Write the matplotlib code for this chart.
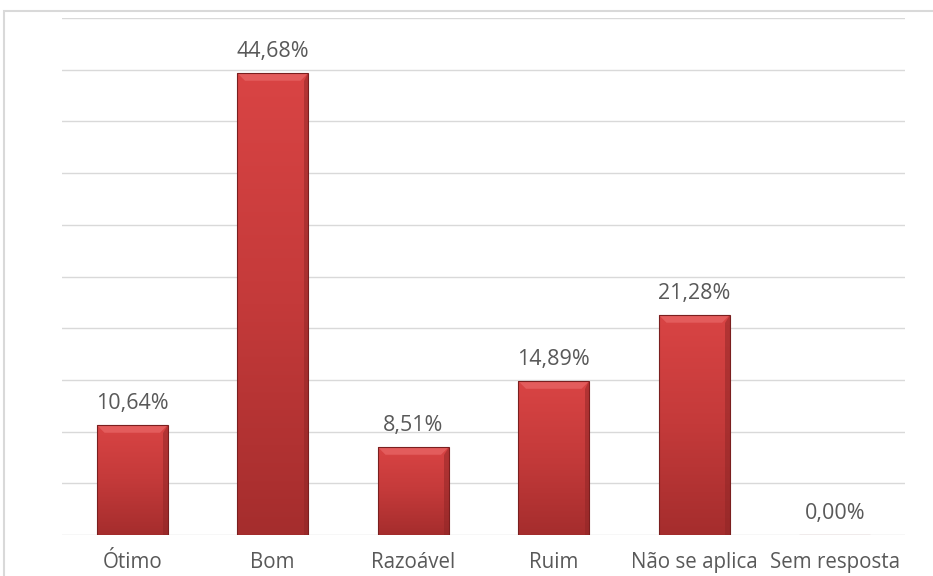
import numpy as np
import matplotlib.pyplot as plt
from matplotlib.patches import Rectangle, Polygon
from matplotlib.colors import LinearSegmentedColormap

categories = ["Ótimo", "Bom", "Razoável", "Ruim", "Não se aplica", "Sem resposta"]
values = [10.64, 44.68, 8.51, 14.89, 21.28, 0.00]

plt.rcParams["font.family"] = ["Open Sans", "DejaVu Sans"]
TEXT = "#595959"
GRID = "#d9d9d9"

fig = plt.figure(figsize=(9.33, 5.76), dpi=100)
W, H = 933, 576
# chart-area border (runs off the right and bottom edges)
fig.patches.append(Rectangle((4 / W, -0.1), 1.2, 1 - 11 / H + 0.1,
                             transform=fig.transFigure, fill=False,
                             edgecolor=GRID, linewidth=1.5))

ax = fig.add_axes([62 / W, 1 - 535 / H, (905 - 62) / W, (535 - 18) / H])
ax.set_xlim(-0.5, len(categories) - 0.5)
ax.set_ylim(0, 50)
ax.set_yticks(np.arange(0, 51, 5))
ax.yaxis.grid(True, color=GRID, linewidth=1)
ax.set_axisbelow(True)
for s in ax.spines.values():
    s.set_visible(False)
ax.tick_params(axis="y", left=False, labelleft=False)
ax.tick_params(axis="x", length=0, pad=12, labelsize=14.8, labelcolor=TEXT)
ax.set_xticks(range(len(categories)))
ax.set_xticklabels(categories)

cmap = LinearSegmentedColormap.from_list("bar", ["#a52d2d", "#c43a3a", "#d94444"])
grad = np.linspace(0, 1, 256).reshape(-1, 1)
width = 0.505
bars = ax.bar(range(len(categories)), values, width=width,
              color="none", edgecolor="#7a1f1f", linewidth=0.8, zorder=3)
bx, by = 0.055, 0.75
for b, v in zip(bars, values):
    x0, x1 = b.get_x(), b.get_x() + b.get_width()
    if v > 0:
        im = ax.imshow(grad, cmap=cmap, extent=[x0, x1, 0, v], origin="lower",
                       aspect="auto", zorder=2)
        im.set_clip_path(b)
        # top bevel
        ax.add_patch(Polygon([[x0, v], [x1, v], [x1 - bx, v - by], [x0 + bx, v - by]],
                             closed=True, facecolor="#e35c5c", edgecolor="none", zorder=2.5))
        # side shading
        ax.add_patch(Polygon([[x1, v], [x1, 0], [x1 - bx * 0.6, 0], [x1 - bx * 0.6, v - by]],
                             closed=True, facecolor="#8e2626", alpha=0.5,
                             edgecolor="none", zorder=2.5))
    ax.annotate(f"{v:.2f}%".replace(".", ","), (b.get_x() + b.get_width() / 2, v),
                xytext=(0, 8), textcoords="offset points", ha="center", va="bottom",
                fontsize=15.5, color=TEXT)
ax.set_xlim(-0.5, len(categories) - 0.5)
ax.set_ylim(0, 50)

fig.savefig("out.png", dpi=100)
